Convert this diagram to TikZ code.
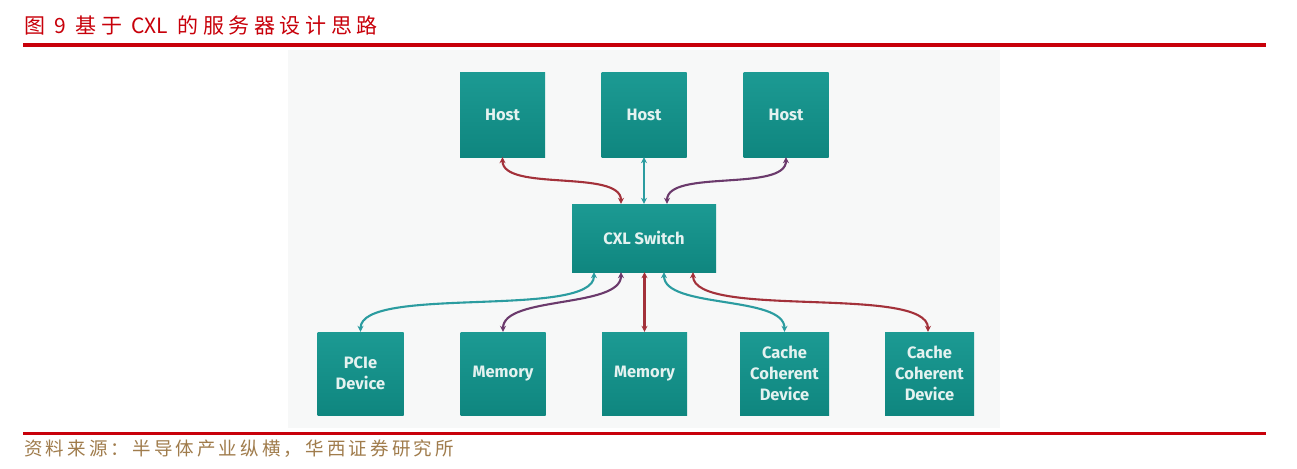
\documentclass[tikz,border=0pt]{standalone}
\usepackage{fontspec}
\setmainfont{Fira Sans}
\newfontfamily\cjktitle[LetterSpace=22]{Noto Sans CJK SC}
\newfontfamily\cjklat{Noto Sans CJK SC}
\newfontfamily\cjksrc[LetterSpace=17]{Noto Sans CJK SC}
\usetikzlibrary{arrows.meta}
\definecolor{titlered}{HTML}{C8000A}
\definecolor{srcgold}{HTML}{A07C4C}
\definecolor{tealtop}{HTML}{1C9A93}
\definecolor{tealbot}{HTML}{0F867F}
\definecolor{boxtext}{HTML}{E4F2F0}
\definecolor{linkred}{HTML}{A3313A}
\definecolor{linkpurple}{HTML}{6B3A6C}
\definecolor{linkteal}{HTML}{2B9CA0}
\definecolor{panel}{HTML}{F7F8F8}
\tikzset{
  box/.style={rectangle, top color=tealtop, bottom color=tealbot, draw=none,
    text=boxtext, font=\fontsize{16.5}{21}\selectfont\bfseries, align=center,
    minimum width=#1, inner sep=0pt},
  box/.default=86pt,
  link/.style={line width=2.1pt, {Stealth[length=6pt,width=6pt]}-{Stealth[length=6pt,width=6pt]}},
}
\begin{document}
\begin{tikzpicture}[x=1pt,y=-1pt]
\useasboundingbox (0,0) rectangle (1297,468);
\fill[white] (0,0) rectangle (1297,468);
\fill[panel] (288,50) rectangle (1000,428);
% title
\node[anchor=west, text=titlered, font=\cjktitle\fontsize{21}{21}\selectfont, inner sep=0pt] (title) at (24,26) {图 {\cjklat 9} 基于 {\cjklat CXL} 的服务器设计思路};
\fill[titlered] (23,43.5) rectangle (1266,47.5);
\fill[titlered] (23,432) rectangle (1266,435);
\node[anchor=west, text=srcgold, font=\cjksrc\fontsize{18.5}{18.5}\selectfont, inner sep=0pt] (src) at (24,449) {资料来源：半导体产业纵横，华西证券研究所};
% boxes
\node[box=85pt, minimum height=84pt] (h1) at (502.5,115) {Host};
\node[box=85pt, minimum height=84pt] (h2) at (644,115) {Host};
\node[box=85pt, minimum height=84pt] (h3) at (786,115) {Host};
\node[box=144pt, minimum height=68pt] (sw) at (644,238) {CXL Switch};
\node[box=86pt, minimum height=83pt] (pcie) at (360.5,373.5) {PCIe\\Device};
\node[box=85pt, minimum height=83pt] (m1) at (503,373.5) {Memory};
\node[box=85pt, minimum height=83pt] (m2) at (644.5,373.5) {Memory};
\node[box=89pt, minimum height=83pt] (c1) at (784.5,373.5) {Cache\\Coherent\\Device};
\node[box=89pt, minimum height=83pt] (c2) at (929.5,373.5) {Cache\\Coherent\\Device};
% connectors
\draw[link, linkred] (h1.south) to[out=-90,in=90,looseness=0.7] ([xshift=-23pt]sw.north);
\draw[link, linkteal] (h2.south) -- (sw.north);
\draw[link, linkpurple] (h3.south) to[out=-90,in=90,looseness=0.7] ([xshift=23pt]sw.north);
\draw[link, linkteal] ([xshift=-50pt]sw.south) to[out=-90,in=90,looseness=0.5] (pcie.north);
\draw[link, linkpurple] ([xshift=-23pt]sw.south) to[out=-90,in=90,looseness=0.7] (m1.north);
\draw[link, linkred] ([xshift=0.5pt]sw.south) -- (m2.north);
\draw[link, linkteal] ([xshift=20pt]sw.south) to[out=-90,in=90,looseness=0.7] (c1.north);
\draw[link, linkred] ([xshift=49pt]sw.south) to[out=-90,in=90,looseness=0.5] ([xshift=-1.5pt]c2.north);
\end{tikzpicture}
\end{document}
